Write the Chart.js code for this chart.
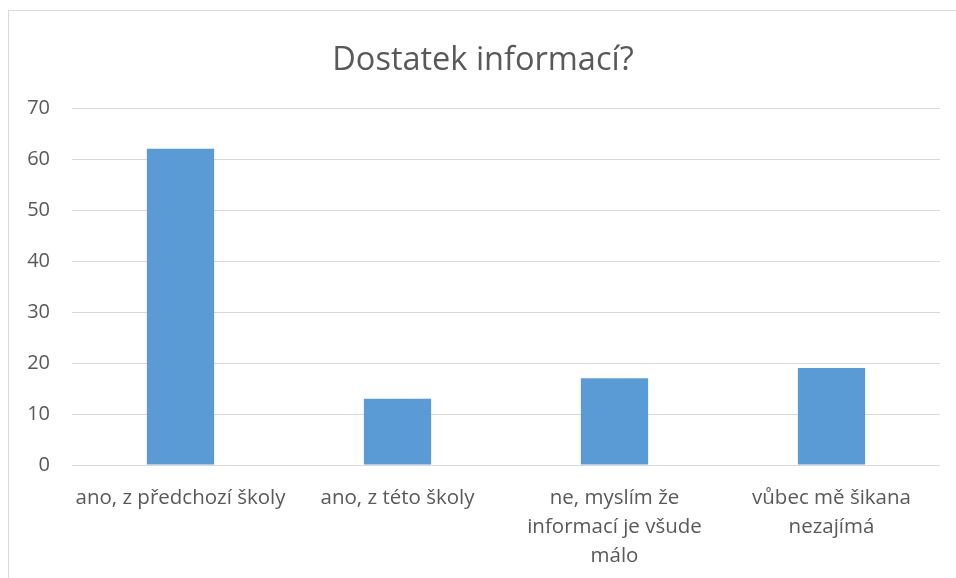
<!DOCTYPE html>
<html><head><meta charset="utf-8">
<script src="https://cdn.jsdelivr.net/npm/chart.js@4/dist/chart.umd.min.js"></script>
<style>
html,body{margin:0;padding:0;background:#fff;}
#wrap{position:relative;width:956px;height:578px;overflow:hidden;}
#frame{position:absolute;left:8px;top:10px;width:1000px;height:1000px;border-left:1px solid #d9d9d9;border-top:1px solid #d9d9d9;box-sizing:border-box;}
canvas{position:absolute;left:0;top:0;}
</style></head>
<body><div id="wrap"><div id="frame"></div><canvas id="c" width="956" height="578"></canvas></div>
<script>
const title = "Dostatek informací?";
const categories = [
  ["ano, z předchozí školy"],
  ["ano, z této školy"],
  ["ne, myslím že", "informací je všude", "málo"],
  ["vůbec mě šikana", "nezajímá"]
];
const values = [62, 13, 17, 19];
const yTicks = [0, 10, 20, 30, 40, 50, 60, 70];

new Chart(document.getElementById('c'), {
  type: 'bar',
  data: {
    labels: categories,
    datasets: [{ data: values, backgroundColor: '#5b9bd5', borderWidth: 0,
      barPercentage: 0.31, categoryPercentage: 1 }]
  },
  options: {
    responsive: false, animation: false,
    layout: { padding: { left: 26, right: 16, top: 24, bottom: 0 } },
    plugins: {
      legend: { display: false },
      tooltip: { enabled: false },
      title: { display: true, text: title, color: '#595959',
        font: { family: 'Open Sans', size: 32.5, weight: 'normal' },
        padding: { top: 17, bottom: 28 } }
    },
    scales: {
      x: {
        afterFit: s => { s.height = 113; },
        grid: { display: false }, border: { display: false },
        ticks: { color: '#595959', maxRotation: 0, autoSkip: false, padding: 11,
          font: { family: 'Open Sans', size: 20.5, lineHeight: 1.4 } }
      },
      y: {
        min: 0, max: 70,
        afterBuildTicks: s => { s.ticks = yTicks.map(v => ({ value: v })); },
        afterFit: s => { s.width = 46; },
        grid: { color: '#d9d9d9', lineWidth: 1, drawTicks: false },
        border: { display: false },
        ticks: { color: '#595959', padding: 22,
          font: { family: 'Open Sans', size: 20 } }
      }
    }
  }
});
</script></body></html>
